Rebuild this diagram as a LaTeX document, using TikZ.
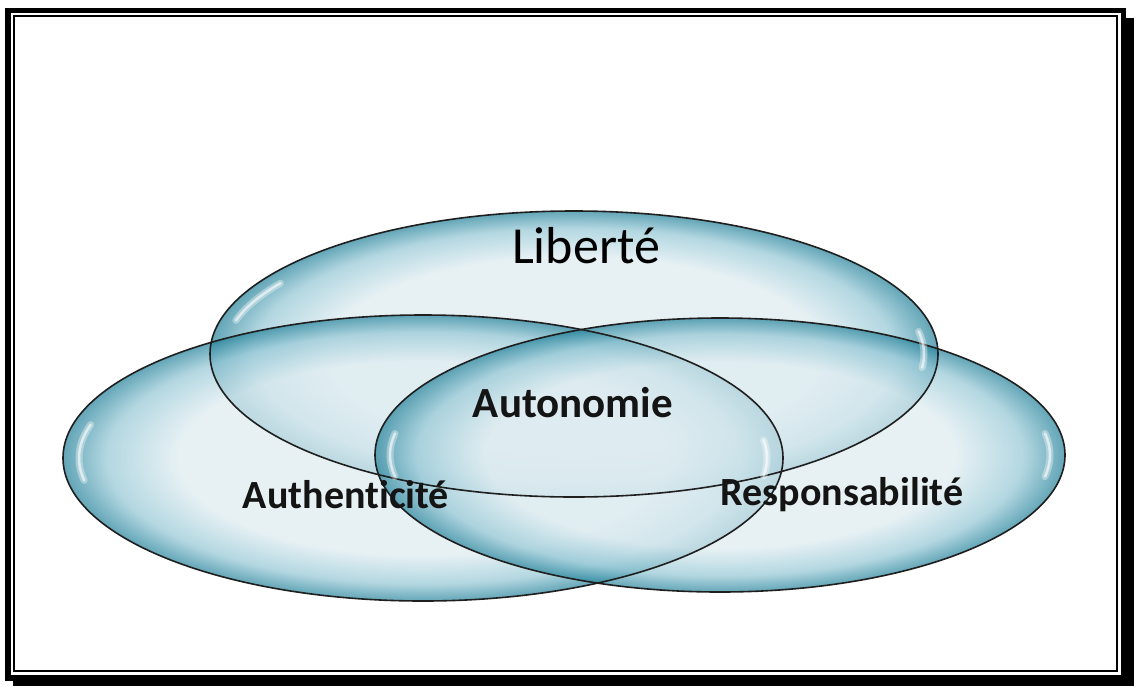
\documentclass[tikz,border=0pt]{standalone}
\usepackage{fontspec}
\setmainfont{Carlito}[Ligatures=NoCommon]
\usetikzlibrary{shapes.geometric}
\definecolor{bubin}{RGB}{222,236,241}
\definecolor{bubmid}{RGB}{150,200,214}
\definecolor{bubout}{RGB}{40,132,156}
\pgfdeclareradialshading{bubble}{\pgfpoint{0bp}{0bp}}{color(0bp)=(bubin); color(17bp)=(bubin); color(22bp)=(bubmid); color(25bp)=(bubout); color(50bp)=(bubout)}
\tikzset{
  bubblebox/.style={ellipse, inner sep=0pt, shading=bubble, fill opacity=0.72},
  rim/.style={draw=black!88, line width=1.6pt},
  gloss/.style={white, draw opacity=0.35, line width=7pt, line cap=round},
  glosscore/.style={white, draw opacity=0.6, line width=2.5pt, line cap=round},
  boldlabel/.style={font=\fontsize{40}{44}\selectfont\bfseries, text=black!92, anchor=base, inner sep=0pt},
}
\begin{document}
\begin{tikzpicture}[x=1pt, y=-1pt]
\useasboundingbox (0,0) rectangle (1134,686);
% frame
\fill[black] (13,18) rectangle (1134,686);
\fill[black] (5,8) rectangle (1126,681);
\fill[white] (11,13) rectangle (1121,675);
\draw[line width=2pt] (14,16) rectangle (1117,671);
% ellipses
\node[bubblebox, minimum width=728pt, minimum height=286pt] (lib) at (574,354) {};
\node[bubblebox, minimum width=720pt, minimum height=286pt] (aut) at (423,458) {};
\node[bubblebox, minimum width=690pt, minimum height=274pt] (res) at (720,455) {};
% outlines on top
\draw[rim] (lib.center) ellipse[x radius=364, y radius=143];
\draw[rim] (aut.center) ellipse[x radius=360, y radius=143];
\draw[rim] (res.center) ellipse[x radius=345, y radius=137];
% gloss highlights
\foreach \s in {gloss,glosscore}{
\draw[\s] (574,354) ++(195:350 and 130) arc[start angle=195, end angle=213, x radius=350, y radius=130];
\draw[\s] (423,458) ++(170:344 and 129) arc[start angle=170, end angle=195, x radius=344, y radius=129];
\draw[\s] (720,455) ++(170:330 and 124) arc[start angle=170, end angle=190, x radius=330, y radius=124];
\draw[\s] (423,458) ++(-8:344 and 129) arc[start angle=-8, end angle=8, x radius=344, y radius=129];
\draw[\s] (720,455) ++(-10:330 and 124) arc[start angle=-10, end angle=10, x radius=330, y radius=124];
\draw[\s] (574,354) ++(-10:350 and 130) arc[start angle=-10, end angle=6, x radius=350, y radius=130];
}
% texts
\node[font=\fontsize{52}{60}\selectfont, anchor=base, inner sep=0pt] (tlib) at (586,263) {Liberté};
\node[boldlabel, font=\fontsize{43}{48}\selectfont\bfseries] (tauto) at (573,417) {Autonomie};
\node[boldlabel] (tauth) at (346,508) {Authenticité};
\node[boldlabel] (tresp) at (842,505) {Responsabilité};
\end{tikzpicture}
\end{document}
